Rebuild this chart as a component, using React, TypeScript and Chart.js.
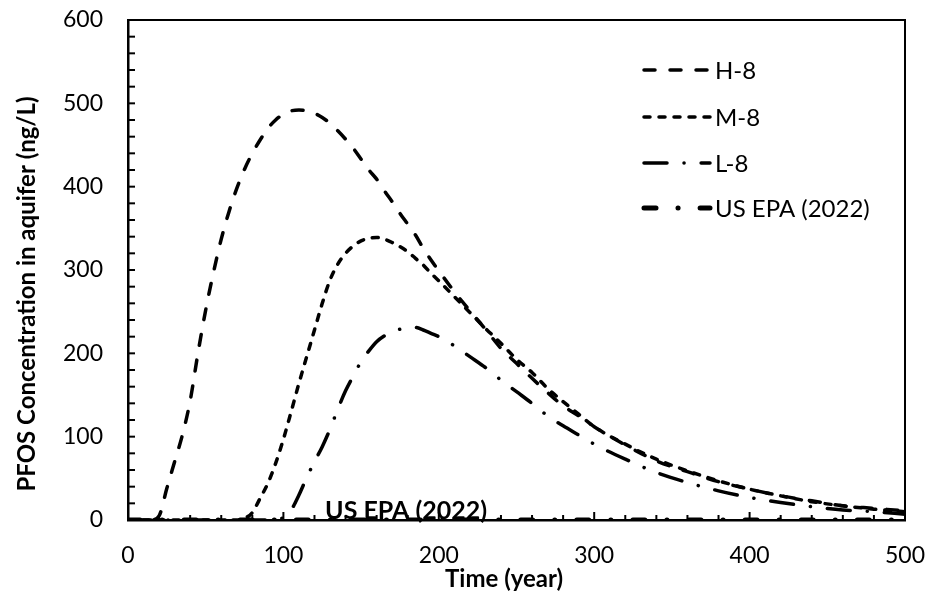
import React, { useEffect, useRef } from "react";
import { Chart, registerables } from "chart.js";

Chart.register(...registerables);

// ---- data ----
const years = [
  0, 10, 15, 20, 25, 30, 35, 40, 45, 50,
  55, 60, 65, 70, 75, 80, 85, 90, 95, 100,
  105, 110, 115, 120, 125, 130, 135, 140, 145, 150,
  155, 160, 165, 170, 175, 180, 185, 190, 195, 200,
  210, 220, 230, 240, 250, 260, 270, 280, 290, 300,
  320, 340, 360, 380, 400, 420, 440, 460, 480, 500,
];

const h8 = [
  0, 0, 0, 5, 38, 70, 102, 143, 200, 252,
  297, 337, 370, 398, 421, 440, 456, 470, 480, 487,
  491, 492, 491, 488, 483, 476, 467, 457, 446, 433,
  420, 409, 395, 382, 368, 355, 342, 326, 312, 299,
  274, 251, 229, 206, 188, 170, 153, 137, 125, 112,
  90, 71, 58, 46, 37, 29, 23, 17, 14, 11,
];

const m8 = [
  0, 0, 0, 0, 0, 0, 0, 0, 0, 0,
  0, 0, 0, 0, 2, 9, 26, 44, 68, 97,
  130, 164, 196, 228, 260, 288, 307, 320, 329, 335,
  338, 339, 337, 333, 328, 322, 314, 306, 296, 287,
  268, 249, 230, 212, 193, 177, 158, 142, 127, 112,
  91, 73, 59, 47, 37, 29, 22, 17, 13, 10,
];

const l8 = [
  0, 0, 0, 0, 0, 0, 0, 0, 0, 0,
  0, 0, 0, 0, 0, 0, 0, 0, 0, 3,
  12, 30, 51, 70, 88, 109, 133, 155, 173, 190,
  203, 214, 221, 226, 229, 231, 231, 228, 224, 220,
  209, 196, 183, 168, 154, 140, 125, 113, 102, 91,
  73, 57, 45, 35, 27, 21, 16, 12, 10, 7,
];

const epaYears = [0, 500];
const epaLevel = [0.02, 0.02];
const epaLabelYear = 179;

const seriesNames = ["H-8", "M-8", "L-8", "US EPA (2022)"];
const xTickValues = [0, 100, 200, 300, 400, 500];
const yTickValues = [0, 100, 200, 300, 400, 500, 600];
const xTitle = "Time (year)";
const yTitle = "PFOS Concentration in aquifer (ng/L)";
const epaLabel = "US EPA (2022)";

// ---- styles ----
const FONT = "Lato, 'Open Sans', sans-serif";
const styles = [
  { width: 3.5, dash: [11, 15] },
  { width: 3.5, dash: [6, 9] },
  { width: 3.5, dash: [23, 17, 0.1, 17] },
  { width: 5, dash: [12, 22, 0.1, 22] },
];

const toPts = (xs: number[], ys: number[]) => xs.map((x, i) => ({ x, y: ys[i] }));

const decorPlugin = {
  id: "decor",
  beforeDatasetsDraw(chart: any) {
    const { ctx, scales } = chart;
    const px = scales.x.getPixelForValue(epaLabelYear);
    const py = scales.y.getPixelForValue(epaLevel[0]);
    ctx.save();
    ctx.fillStyle = "#000";
    ctx.font = `bold 25px ${FONT}`;
    ctx.textAlign = "center";
    ctx.textBaseline = "alphabetic";
    ctx.fillText(epaLabel, px, py - 1);
    ctx.restore();
  },
  afterDraw(chart: any) {
    const { ctx, chartArea: ca, scales } = chart;
    const xs = scales.x;
    const ys = scales.y;
    ctx.save();
    ctx.strokeStyle = "#000";
    ctx.lineCap = "butt";
    // top & right frame
    ctx.lineWidth = 2;
    ctx.beginPath();
    ctx.moveTo(ca.left, ca.top);
    ctx.lineTo(ca.right, ca.top);
    ctx.lineTo(ca.right, ca.bottom);
    ctx.stroke();
    // inward ticks
    ctx.lineWidth = 2;
    for (let v = 0; v <= 600; v += 20) {
      const py = ys.getPixelForValue(v);
      ctx.beginPath();
      ctx.moveTo(ca.left, py);
      ctx.lineTo(ca.left + 7, py);
      ctx.stroke();
    }
    for (let v = 0; v <= 500; v += 20) {
      const px = xs.getPixelForValue(v);
      const len = v % 100 === 0 ? 8 : 5;
      ctx.beginPath();
      ctx.moveTo(px, ca.bottom);
      ctx.lineTo(px, ca.bottom - len);
      ctx.stroke();
    }
    // axis titles
    ctx.fillStyle = "#000";
    ctx.font = `bold 24px ${FONT}`;
    ctx.textAlign = "center";
    ctx.textBaseline = "middle";
    ctx.fillText(xTitle, 504, 579);
    ctx.save();
    ctx.translate(27, 294);
    ctx.rotate(-Math.PI / 2);
    ctx.fillText(yTitle, 0, 0);
    ctx.restore();
    // legend
    const rows = [70, 117, 163, 208];
    ctx.font = `24px ${FONT}`;
    ctx.textAlign = "left";
    ctx.textBaseline = "middle";
    seriesNames.forEach((name, i) => {
      const st = styles[i];
      ctx.save();
      ctx.lineWidth = st.width;
      ctx.lineCap = "round";
      ctx.setLineDash(st.dash);
      ctx.beginPath();
      ctx.moveTo(644, rows[i]);
      ctx.lineTo(710, rows[i]);
      ctx.stroke();
      ctx.restore();
      ctx.fillText(name, 715, rows[i] + 1);
    });
    ctx.restore();
  },
};

export default function App() {
  const ref = useRef<HTMLCanvasElement | null>(null);

  useEffect(() => {
    document.body.style.margin = "0";
    const canvas = ref.current!;
    const mk = (label: string, xs: number[], ysv: number[], i: number) => ({
      label,
      data: toPts(xs, ysv),
      borderColor: "#000",
      backgroundColor: "#000",
      borderWidth: styles[i].width,
      borderDash: styles[i].dash,
      borderCapStyle: "round" as const,
      pointRadius: 0,
      fill: false,
      cubicInterpolationMode: "monotone" as const,
    });
    const chart = new Chart(canvas, {
      type: "line",
      data: {
        datasets: [
          mk(seriesNames[0], years, h8, 0),
          mk(seriesNames[1], years, m8, 1),
          mk(seriesNames[2], years, l8, 2),
          mk(seriesNames[3], epaYears, epaLevel, 3),
        ],
      },
      options: {
        responsive: false,
        animation: false,
        devicePixelRatio: 1,
        layout: { padding: { left: 0, right: 20, top: 20, bottom: 0 } },
        plugins: { legend: { display: false }, tooltip: { enabled: false } },
        scales: {
          x: {
            type: "linear",
            min: 0,
            max: 500,
            afterFit: (s: any) => {
              s.height = 72;
              s.paddingLeft = 0;
              s.paddingRight = 0;
            },
            afterBuildTicks: (s: any) => {
              s.ticks = xTickValues.map((v) => ({ value: v }));
            },
            grid: { display: false, drawTicks: false },
            border: { display: true, color: "#000", width: 2.5 },
            ticks: {
              color: "#000",
              font: { family: FONT, size: 23 },
              padding: 22,
              maxRotation: 0,
            },
          },
          y: {
            type: "linear",
            min: 0,
            max: 600,
            afterFit: (s: any) => {
              s.width = 128;
              s.paddingTop = 0;
              s.paddingBottom = 0;
            },
            afterBuildTicks: (s: any) => {
              s.ticks = yTickValues.map((v) => ({ value: v }));
            },
            grid: { display: false, drawTicks: false },
            border: { display: true, color: "#000", width: 2.5 },
            ticks: {
              color: "#000",
              font: { family: FONT, size: 23 },
              padding: 25,
            },
          },
        },
      },
      plugins: [decorPlugin],
    });
    return () => chart.destroy();
  }, []);

  return <canvas ref={ref} width={925} height={592} style={{ display: "block", width: 925, height: 592 }} />;
}
